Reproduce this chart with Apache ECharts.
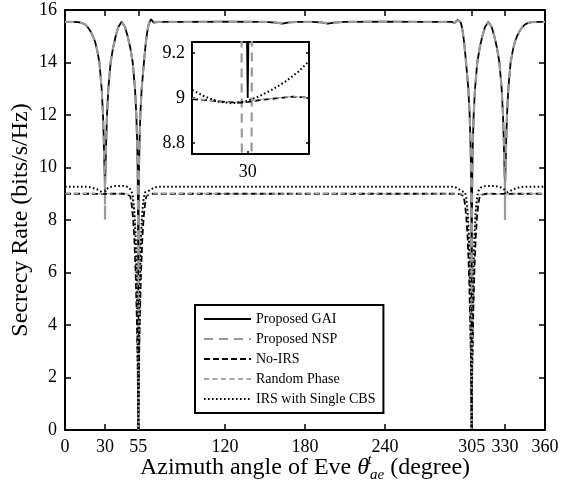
<!DOCTYPE html>
<html>
<head>
<meta charset="utf-8">
<script src="https://cdn.jsdelivr.net/npm/echarts@6/dist/echarts.min.js"></script>
<style>html,body{margin:0;padding:0;background:#fff;}#c{width:565px;height:489px;}</style>
</head>
<body>
<div id="c"></div>
<script>
// ---------- data ----------
const seriesNames = ['Proposed GAI', 'Proposed NSP', 'No-IRS', 'Random Phase', 'IRS with Single CBS'];
const xTicks = [0, 30, 55, 120, 180, 240, 305, 330, 360];
const yTicks = [0, 2, 4, 6, 8, 10, 12, 14, 16];
const insetXTicks = [30];
const insetYTicks = [8.8, 9, 9.2];

const gaiData = [[0,15.55],[6,15.55],[10,15.54],[13,15.5],[15,15.45],[17,15.35],[19,15.2],[21,15.0],[22.5,14.8],[24,14.5],[25.8,14.0],[27.5,13.0],[28.5,12.0],[29.1,11.0],[29.5,10.2],[29.8,9.6],[29.98,9.3],[30,9.0],[30.02,9.3],[30.2,9.6],[30.5,10.2],[30.9,11.0],[31.5,12.0],[32.5,13.0],[34.2,14.0],[36,14.55],[38,15.0],[40,15.35],[42.5,15.55],[45,15.35],[47,15.0],[49,14.55],[50.8,14.0],[52.5,13.0],[53.5,12.0],[54.1,11.0],[54.5,10.0],[54.8,8.0],[54.95,5.0],[55,0],[55.05,5.0],[55.2,8.0],[55.5,10.0],[55.9,11.0],[56.5,12.0],[57.5,13.0],[59.2,14.0],[60.5,14.7],[61.5,15.1],[62.5,15.4],[63.5,15.55],[64.5,15.65],[65.5,15.62],[66.5,15.52],[68,15.5],[70,15.55],[90,15.55],[120,15.56],[150,15.55],[158,15.52],[163,15.48],[168,15.53],[175,15.55],[180,15.55],[185,15.55],[192,15.53],[197,15.48],[202,15.52],[210,15.55],[240,15.56],[270,15.55],[290,15.55],[292,15.5],[293.5,15.52],[294.5,15.62],[295.5,15.65],[296.5,15.55],[297.5,15.4],[298.5,15.1],[299.5,14.7],[300.8,14.0],[302.5,13.0],[303.5,12.0],[304.1,11.0],[304.5,10.0],[304.8,8.0],[304.95,5.0],[305,0],[305.05,5.0],[305.2,8.0],[305.5,10.0],[305.9,11.0],[306.5,12.0],[307.5,13.0],[309.2,14.0],[311,14.55],[313,15.0],[315,15.35],[317.5,15.55],[320,15.35],[322,15.0],[324,14.55],[325.8,14.0],[327.5,13.0],[328.5,12.0],[329.1,11.0],[329.5,10.2],[329.8,9.6],[329.98,9.3],[330,9.0],[330.02,9.3],[330.2,9.6],[330.5,10.2],[330.9,11.0],[331.5,12.0],[332.5,13.0],[334.2,14.0],[336,14.5],[337.5,14.8],[339,15.0],[341,15.2],[343,15.35],[345,15.45],[347,15.5],[350,15.54],[354,15.55],[360,15.55]];

const nspData = [[0,15.55],[6,15.55],[10,15.54],[13,15.5],[15,15.45],[17,15.35],[19,15.2],[21,15.0],[22.5,14.8],[24,14.5],[25.8,14.0],[27.5,13.0],[28.5,12.0],[29.1,11.0],[29.5,10.2],[29.8,9.6],[29.95,9.2],[29.97,8.6],[30,8.0],[30.03,8.6],[30.05,9.2],[30.2,9.6],[30.5,10.2],[30.9,11.0],[31.5,12.0],[32.5,13.0],[34.2,14.0],[36,14.55],[38,15.0],[40,15.35],[42.5,15.55],[45,15.35],[47,15.0],[49,14.55],[50.8,14.0],[52.5,13.0],[53.5,12.0],[54.1,11.0],[54.5,10.0],[54.8,8.0],[54.95,5.0],[55,0],[55.05,5.0],[55.2,8.0],[55.5,10.0],[55.9,11.0],[56.5,12.0],[57.5,13.0],[59.2,14.0],[60.5,14.7],[61.5,15.1],[62.5,15.4],[63.5,15.55],[64.5,15.63],[65.5,15.6],[66.5,15.52],[68,15.5],[70,15.55],[90,15.55],[120,15.55],[150,15.55],[158,15.52],[163,15.5],[168,15.53],[175,15.55],[180,15.55],[185,15.55],[192,15.53],[197,15.5],[202,15.52],[210,15.55],[240,15.55],[270,15.55],[290,15.55],[292,15.5],[293.5,15.52],[294.5,15.6],[295.5,15.63],[296.5,15.55],[297.5,15.4],[298.5,15.1],[299.5,14.7],[300.8,14.0],[302.5,13.0],[303.5,12.0],[304.1,11.0],[304.5,10.0],[304.8,8.0],[304.95,5.0],[305,0],[305.05,5.0],[305.2,8.0],[305.5,10.0],[305.9,11.0],[306.5,12.0],[307.5,13.0],[309.2,14.0],[311,14.55],[313,15.0],[315,15.35],[317.5,15.55],[320,15.35],[322,15.0],[324,14.55],[325.8,14.0],[327.5,13.0],[328.5,12.0],[329.1,11.0],[329.5,10.2],[329.8,9.6],[329.95,9.2],[329.97,8.6],[330,8.0],[330.03,8.6],[330.05,9.2],[330.2,9.6],[330.5,10.2],[330.9,11.0],[331.5,12.0],[332.5,13.0],[334.2,14.0],[336,14.5],[337.5,14.8],[339,15.0],[341,15.2],[343,15.35],[345,15.45],[347,15.5],[350,15.54],[354,15.55],[360,15.55]];

const noIrsData = [[0,9.0],[10,9.0],[20,9.0],[29.5,8.997],[29.8,8.983],[30,8.98],[30.25,8.998],[30.5,9.004],[35,9.0],[44,9.0],[47,8.97],[49,8.9],[50,8.6],[51,8.1],[52,7.3],[53,6.0],[54,4.0],[54.6,2.2],[55,0],[55.4,2.2],[56,4.0],[57,6.0],[58,7.3],[59,8.1],[60,8.6],[61,8.9],[63,8.98],[66,9.0],[120,9.0],[180,9.0],[240,9.0],[294,9.0],[297,8.98],[299,8.9],[300,8.6],[301,8.1],[302,7.3],[303,6.0],[304,4.0],[304.6,2.2],[305,0],[305.4,2.2],[306,4.0],[307,6.0],[308,7.3],[309,8.1],[310,8.6],[311,8.9],[313,8.97],[316,9.0],[329.5,8.997],[330,8.98],[330.5,8.997],[340,9.0],[360,9.0]];

const randomData = [[0,9.0],[15,9.01],[29.5,9.0],[30,8.982],[30.5,9.002],[45,9.0],[48,8.98],[50,8.9],[51.5,8.6],[52.5,8.0],[53.3,7.0],[54,5.5],[54.6,3.0],[55,0],[55.4,3.0],[56,5.5],[56.7,7.0],[57.5,8.0],[58.5,8.6],[60,8.9],[62,8.98],[65,9.0],[100,9.01],[140,8.99],[180,9.0],[220,9.01],[260,8.99],[295,9.0],[298,8.98],[300,8.9],[301.5,8.6],[302.5,8.0],[303.3,7.0],[304,5.5],[304.6,3.0],[305,0],[305.4,3.0],[306,5.5],[306.7,7.0],[307.5,8.0],[308.5,8.6],[310,8.9],[312,8.98],[315,9.0],[330,8.982],[345,9.01],[360,9.0]];

const cbsData = [[0,9.27],[10,9.27],[16,9.27],[18.5,9.25],[21,9.22],[24,9.17],[26,9.11],[28,9.06],[29.5,9.036],[29.86,8.976],[30,8.985],[30.54,9.16],[31.5,9.2],[33,9.24],[35,9.27],[38,9.3],[43,9.3],[46,9.28],[48,9.24],[50,9.1],[51,8.85],[52,8.3],[53,7.3],[54,5.0],[54.6,2.5],[55,0],[55.4,2.5],[56,5.0],[57,7.3],[58,8.3],[59,8.85],[60,9.05],[61.5,9.1],[63,9.12],[65,9.18],[67,9.24],[70,9.27],[120,9.27],[180,9.27],[240,9.27],[290,9.27],[293,9.24],[295,9.18],[297,9.12],[298.5,9.1],[300,9.05],[301,8.85],[302,8.3],[303,7.3],[304,5.0],[304.6,2.5],[305,0],[305.4,2.5],[306,5.0],[307,7.3],[308,8.3],[309,8.85],[310,9.1],[312,9.24],[314,9.28],[317,9.3],[322,9.3],[325,9.27],[327,9.24],[328.5,9.2],[329.46,9.16],[330,8.985],[330.14,8.976],[330.5,9.036],[332,9.06],[334,9.11],[336,9.17],[339,9.22],[341.5,9.25],[344,9.27],[360,9.27]];

// inset (zoom around 30 degrees)
const insetGai = [[29.99,9.4],[30.0,9.0],[30.01,9.4]];
const insetNsp = [[29.944,9.4],[29.948,8.6],[30.034,8.6],[30.038,9.4]];
const insetNoIrs = [[29.5,8.995],[29.65,8.99],[29.8,8.982],[29.95,8.979],[30.1,8.99],[30.25,8.998],[30.4,9.006],[30.55,9.002]];
const insetRandom = [[29.5,9.0],[29.65,8.99],[29.8,8.98],[29.95,8.981],[30.1,8.992],[30.25,9.0],[30.4,9.007],[30.55,9.001]];
const insetCbs = [[29.503,9.036],[29.617,9.006],[29.736,8.984],[29.856,8.976],[29.976,8.984],[30.095,9.006],[30.215,9.036],[30.335,9.072],[30.454,9.117],[30.55,9.165]];

// ---------- styles ----------
const FONT = 'Liberation Serif';
const styles = [
  {color:'#000000', width:1.8, type:'solid'},
  {color:'#9a9a9a', width:2.2, type:[9,6]},
  {color:'#000000', width:1.8, type:[6,3]},
  {color:'#a8a8a8', width:1.2, type:[5,3.5]},
  {color:'#000000', width:2, type:[1.6,2.4]}
];
const mainData = [gaiData, nspData, noIrsData, randomData, cbsData];
const insetData = [insetGai, insetNsp, insetNoIrs, insetRandom, insetCbs];

const series = [];
seriesNames.forEach((n, i) => {
  series.push({
    name: n, type: 'line', xAxisIndex: 0, yAxisIndex: 0,
    data: mainData[i], symbol: 'none', showSymbol: false, clip: true,
    lineStyle: {color: styles[i].color, width: styles[i].width, type: styles[i].type, cap: 'butt'},
    itemStyle: {color: styles[i].color},
    emphasis: {disabled: true}, silent: true
  });
});
seriesNames.forEach((n, i) => {
  series.push({
    name: 'inset ' + n, type: 'line', xAxisIndex: 2, yAxisIndex: 2, z: 10,
    data: insetData[i], symbol: 'none', showSymbol: false, clip: true,
    lineStyle: {color: styles[i].color, width: styles[i].width, type: styles[i].type, cap: 'butt'},
    itemStyle: {color: styles[i].color},
    emphasis: {disabled: true}, silent: true
  });
});

const axisLineStyle = {show: true, onZero: false, lineStyle: {color: '#000', width: 2}};
const tickStyle = {inside: true, length: 6, lineStyle: {color: '#000', width: 1.5}};
const labelStyle = {fontFamily: FONT, fontSize: 18, color: '#000'};
const insetTick = {inside: true, length: 3, lineStyle: {color: '#000', width: 1.5}};

const chart = echarts.init(document.getElementById('c'), null, {renderer: 'canvas'});
chart.setOption({
  animation: false,
  backgroundColor: '#ffffff',
  grid: [
    {left: 65, right: 20, top: 10, bottom: 59, show: false, containLabel: false, outerBoundsMode: 'none'},
    {left: 192, top: 42, width: 117, height: 112, show: false, containLabel: false, outerBoundsMode: 'none'}
  ],
  legend: {
    data: seriesNames, orient: 'vertical', left: 195, top: 305,
    itemWidth: 47, itemHeight: 14, itemGap: 6, padding: [7, 8, 7, 8],
    borderColor: '#000', borderWidth: 2, backgroundColor: '#fff',
    selectedMode: false,
    itemStyle: {opacity: 0},
    textStyle: {fontFamily: FONT, fontSize: 14, color: '#000'}
  },
  xAxis: [
    {gridIndex: 0, type: 'value', min: 0, max: 360, position: 'bottom',
     axisLine: axisLineStyle,
     axisTick: Object.assign({customValues: xTicks}, tickStyle),
     axisLabel: Object.assign({customValues: xTicks, margin: 8}, labelStyle),
     splitLine: {show: false},
     name: '{n|Azimuth angle of Eve }{th|θ}{sup|t}{sub|ae}{n| (degree)}',
     nameLocation: 'middle', nameGap: 23, nameMoveOverlap: false,
     nameTextStyle: {fontFamily: FONT, fontSize: 24, color: '#000',
       rich: {
         n: {fontFamily: FONT, fontSize: 24, color: '#000', lineHeight: 30},
         th: {fontFamily: FONT, fontSize: 24, fontStyle: 'italic', color: '#000', lineHeight: 30},
         sup: {fontFamily: FONT, fontSize: 15, fontStyle: 'italic', color: '#000', verticalAlign: 'top', lineHeight: 20, width: 1},
         sub: {fontFamily: FONT, fontSize: 15, fontStyle: 'italic', color: '#000', verticalAlign: 'bottom', lineHeight: 13}
       }}},
    {gridIndex: 0, type: 'value', min: 0, max: 360, position: 'top',
     axisLine: axisLineStyle,
     axisTick: Object.assign({customValues: xTicks}, tickStyle),
     axisLabel: {show: false}, splitLine: {show: false}},
    {gridIndex: 1, type: 'value', min: 29.5, max: 30.55, position: 'bottom',
     axisLine: axisLineStyle,
     axisTick: Object.assign({customValues: insetXTicks}, insetTick),
     axisLabel: Object.assign({customValues: insetXTicks, margin: 9}, labelStyle),
     splitLine: {show: false}},
    {gridIndex: 1, type: 'value', min: 29.5, max: 30.55, position: 'top',
     axisLine: axisLineStyle,
     axisTick: Object.assign({customValues: insetXTicks}, insetTick),
     axisLabel: {show: false}, splitLine: {show: false}}
  ],
  yAxis: [
    {gridIndex: 0, type: 'value', min: 0, max: 16, interval: 2, position: 'left',
     axisLine: axisLineStyle,
     axisTick: Object.assign({customValues: yTicks}, tickStyle),
     axisLabel: Object.assign({customValues: yTicks, margin: 8}, labelStyle),
     splitLine: {show: false},
     name: 'Secrecy Rate (bits/s/Hz)', nameLocation: 'middle', nameGap: 32, nameMoveOverlap: false,
     nameTextStyle: {fontFamily: FONT, fontSize: 24, color: '#000'}},
    {gridIndex: 0, type: 'value', min: 0, max: 16, interval: 2, position: 'right',
     axisLine: axisLineStyle,
     axisTick: Object.assign({customValues: yTicks}, tickStyle),
     axisLabel: {show: false}, splitLine: {show: false}},
    {gridIndex: 1, type: 'value', min: 8.75, max: 9.25, position: 'left',
     axisLine: axisLineStyle,
     axisTick: Object.assign({customValues: insetYTicks}, insetTick),
     axisLabel: Object.assign({customValues: insetYTicks, margin: 7}, labelStyle),
     splitLine: {show: false}},
    {gridIndex: 1, type: 'value', min: 8.75, max: 9.25, position: 'right',
     axisLine: axisLineStyle,
     axisTick: Object.assign({customValues: insetYTicks}, insetTick),
     axisLabel: {show: false}, splitLine: {show: false}}
  ],
  series: series
});
</script>
</body>
</html>
